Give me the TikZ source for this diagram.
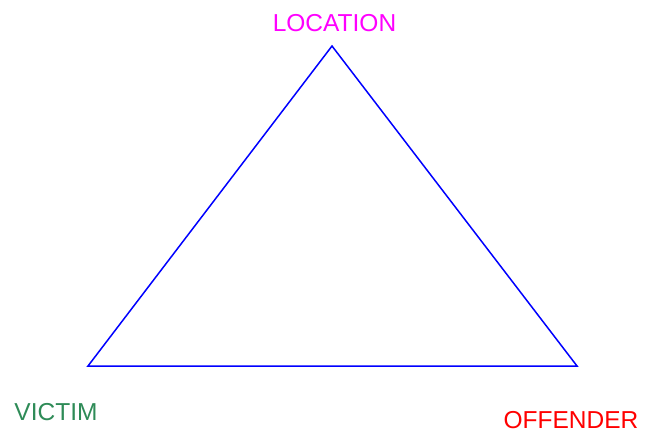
\documentclass[tikz,border=0pt]{standalone}
\usepackage{fontspec}
\setmainfont{Liberation Sans}
\begin{document}
\begin{tikzpicture}[x=1pt,y=1pt,
  lbl/.style={inner sep=0pt, font=\fontsize{24.5}{28}\selectfont},
  tri/.style={draw={rgb,255:red,0;green,0;blue,255}, line width=1.5pt, line join=miter}]
\useasboundingbox (0,0) rectangle (647,432);
\definecolor{vgreen}{RGB}{46,139,87}
\coordinate (top) at (332,386);
\coordinate (bl) at (88,66);
\coordinate (br) at (577,66);
\draw[tri] (top) -- (bl) -- (br) -- cycle;
\node[lbl, text={rgb,255:red,255;green,0;blue,255}] (loc) at (334.5,408.5) {LOCATION};
\node[lbl, text=vgreen] (vic) at (56,20) {VICTIM};
\node[lbl, text=red] (off) at (571,12) {OFFENDER};
\end{tikzpicture}
\end{document}
